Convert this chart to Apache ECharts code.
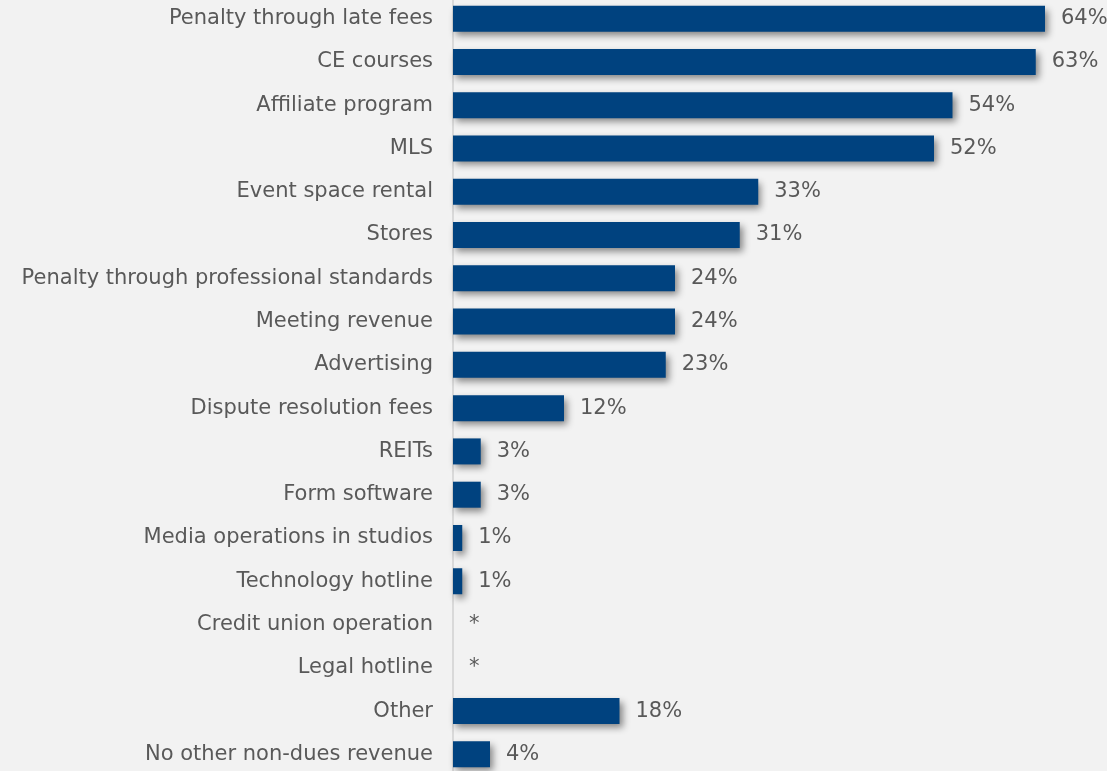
<!DOCTYPE html>
<html>
<head>
<meta charset="utf-8">
<script src="https://cdn.jsdelivr.net/npm/echarts@6/dist/echarts.min.js"></script>
<style>
  html, body { margin: 0; padding: 0; background: #f2f2f2; overflow: hidden; }
  #chart { width: 1107px; height: 779px; margin-top: -3px; }
</style>
</head>
<body>
<div id="chart"></div>
<script>
// Sources of non-dues revenue (share of respondents, %)
const categories = [
  'Penalty through late fees',
  'CE courses',
  'Affiliate program',
  'MLS',
  'Event space rental',
  'Stores',
  'Penalty through professional standards',
  'Meeting revenue',
  'Advertising',
  'Dispute resolution fees',
  'REITs',
  'Form software',
  'Media operations in studios',
  'Technology hotline',
  'Credit union operation',
  'Legal hotline',
  'Other',
  'No other non-dues revenue'
];
const values = [64, 63, 54, 52, 33, 31, 24, 24, 23, 12, 3, 3, 1, 1, 0, 0, 18, 4];
// Rows shown with an asterisk instead of a percentage (less than 0.5%)
const starred = [false, false, false, false, false, false, false, false, false, false,
                 false, false, false, false, true, true, false, false];

const FONT = 'DejaVu Sans';
const chart = echarts.init(document.getElementById('chart'));
chart.setOption({
  backgroundColor: '#f2f2f2',
  animation: false,
  grid: { left: 453, right: 6.5, top: 0, bottom: 0, containLabel: false },
  xAxis: {
    type: 'value', min: 0, max: 70, show: false
  },
  yAxis: {
    type: 'category',
    data: categories,
    inverse: true,
    axisTick: { show: false },
    axisLine: { show: true, lineStyle: { color: '#d9d9d9', width: 2 } },
    axisLabel: { color: '#595959', fontSize: 21, fontFamily: FONT, margin: 20, padding: [4, 0, 0, 0] }
  },
  series: [{
    type: 'bar',
    data: values,
    barWidth: 26,
    itemStyle: {
      color: '#00427f',
      shadowColor: 'rgba(0,0,0,0.45)',
      shadowBlur: 7,
      shadowOffsetX: 3,
      shadowOffsetY: 4
    },
    label: {
      show: true,
      position: 'right',
      distance: 16,
      color: '#595959',
      fontSize: 21,
      fontFamily: FONT,
      padding: [4, 0, 0, 0],
      formatter: p => starred[p.dataIndex] ? '*' : p.value + '%'
    }
  }]
});
</script>
</body>
</html>
